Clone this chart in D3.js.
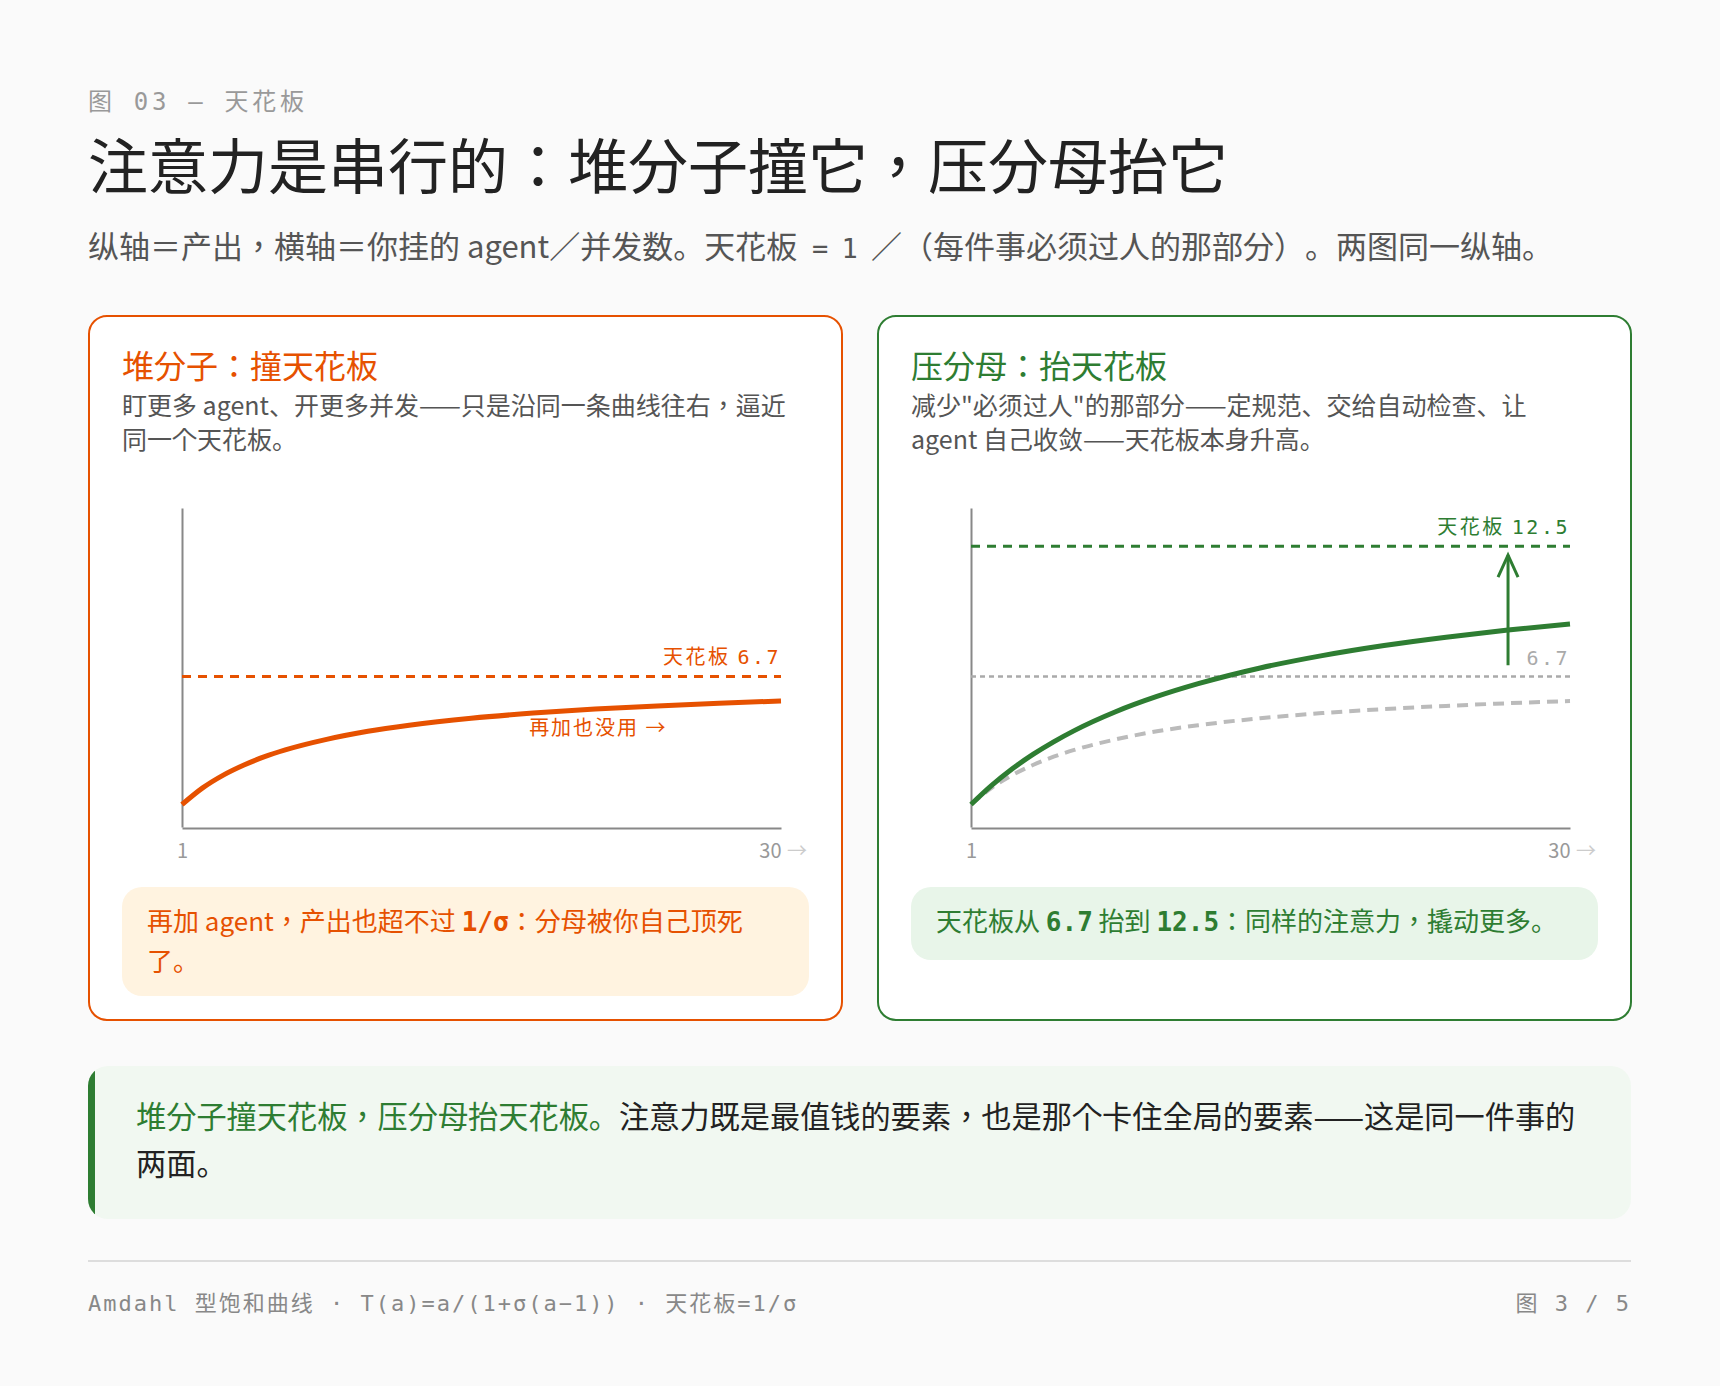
<!DOCTYPE html>
<html><head><meta charset="utf-8">
<script src="https://cdn.jsdelivr.net/npm/d3@7"></script>
<style>
html,body{margin:0;padding:0;background:#fafafa;}
svg{display:block;}
svg text{text-spacing-trim:space-all;}
</style></head><body>
<svg id="c" width="1720" height="1386"></svg>
<script>
// ---------- data ----------
const agents        = [1, 2, 3, 4, 5, 6, 8, 10, 12, 15, 18, 21, 24, 27, 30];
const outputBefore  = [1.00, 1.74, 2.31, 2.76, 3.13, 3.43, 3.90, 4.26, 4.53, 4.84, 5.07, 5.25, 5.39, 5.51, 5.61];
const outputAfter   = [1.00, 1.85, 2.59, 3.23, 3.79, 4.29, 5.13, 5.81, 6.38, 7.08, 7.63, 8.08, 8.45, 8.77, 9.04];
const ceilingBefore = 6.7;
const ceilingAfter  = 12.5;
const xTickValues   = [1, 30];
const xTickLabels   = ["1", "30"];
const arrowAgent    = 27;
const arrowRange    = [7.2, 12.1];
const yMax          = 14.2;

// ---------- styles ----------
const SANS = "'Noto Sans CJK JP','Noto Sans CJK SC','Noto Sans',sans-serif";
const MONO = "'DejaVu Sans Mono','Noto Sans CJK JP',monospace";
const COMMA = "'Noto Sans CJK TC','Noto Sans CJK JP',sans-serif";
const ORANGE = "#e65100", GREEN = "#2e7d32";

const svg = d3.select("#c");
svg.append("rect").attr("width",1720).attr("height",1386).attr("fill","#fafafa");

function rich(g, x, y, fs, parts, opts={}) {
  const t = g.append("text").attr("x",x).attr("y",y).attr("font-size",fs)
    .attr("font-family", opts.family || SANS).attr("fill", opts.fill || "#222");
  if (opts.anchor) t.attr("text-anchor", opts.anchor);
  if (opts.ls) t.attr("letter-spacing", opts.ls);
  parts.forEach(p => {
    if (typeof p === "string") p = {t:p};
    const pieces = p.mono ? [p.t] : p.t.split(/(，)/).filter(s => s.length);
    pieces.forEach(piece => {
      const s = t.append("tspan").text(piece);
      if (p.mono) s.attr("font-family", MONO);
      else if (piece === "，" && !opts.family) s.attr("font-family", COMMA);
      if (p.bold) s.attr("font-weight", 700);
      if (p.fill) s.attr("fill", p.fill);
      if (p.fs) s.attr("font-size", p.fs);
      if (p.ls !== undefined) s.attr("letter-spacing", p.ls);
    });
  });
  t.style("white-space","pre");
  return t;
}

// ---------- header ----------
rich(svg, 88, 110, 24, ["图 03 — 天花板"], {family:MONO, fill:"#999", ls:3.7});
rich(svg, 88, 189, 60, ["注意力是串行的：堆分子撞它，压分母抬它"], {fill:"#222"});
rich(svg, 88, 258, 31, ["纵轴＝产出，横轴＝你挂的 agent／并发数。天花板", {t:" = 1 ", mono:true, fs:27, ls:-1.5}, "／（每件事必须过人的那部分）。两图同一纵轴。"], {fill:"#555"});

// ---------- panels ----------
const panels = [
  {x:88, color:ORANGE, title:"堆分子：撞天花板",
   desc:["盯更多 agent、开更多并发——只是沿同一条曲线往右，逼近","同一个天花板。"],
   boxFill:"#fff3e0", boxH:109,
   note:[[ "再加 agent，产出也超不过 ", {t:"1/σ", mono:true, bold:true}, "：分母被你自己顶死"], ["了。"]]},
  {x:877, color:GREEN, title:"压分母：抬天花板",
   desc:["减少\"必须过人\"的那部分——定规范、交给自动检查、让","agent 自己收敛——天花板本身升高。"],
   boxFill:"#e8f5e9", boxH:73,
   note:[[ "天花板从 ", {t:"6.7", mono:true, bold:true}, " 抬到 ", {t:"12.5", mono:true, bold:true}, "：同样的注意力，撬动更多。"]]}
];

panels.forEach((p, i) => {
  const g = svg.append("g");
  g.append("rect").attr("x",p.x+1).attr("y",316).attr("width",753).attr("height",704)
    .attr("rx",18).attr("fill","#fff").attr("stroke",p.color).attr("stroke-width",2);
  rich(g, p.x+34, 378, 32, [p.title], {fill:p.color});
  p.desc.forEach((line, k) => rich(g, p.x+34, 415 + k*33.5, 25, [line], {fill:"#555"}));

  // chart
  const x = d3.scaleLinear().domain([1, 30]).range([p.x+94, p.x+693]);
  const y = d3.scaleLinear().domain([0, yMax]).range([827, 508]);
  const ch = g.append("g");

  ch.append("g").attr("transform",`translate(${p.x+94},0)`)
    .call(d3.axisLeft(y).tickValues([]).tickSizeOuter(0))
    .call(a => a.select(".domain").attr("stroke","#888").attr("stroke-width",2));
  const xa = ch.append("g").attr("transform",`translate(0,${y(0)+1})`)
    .call(d3.axisBottom(x).tickValues(xTickValues).tickSize(0).tickSizeOuter(0).tickPadding(16)
      .tickFormat((d, j) => xTickLabels[j]));
  xa.select(".domain").attr("stroke","#888").attr("stroke-width",2);
  xa.selectAll("text").attr("font-size",20).attr("font-family",SANS).attr("fill","#999")
    .attr("text-anchor", (d, j) => j === xTickLabels.length - 1 ? "end" : "middle");
  // trailing axis arrow after the last tick label
  xa.append("text").attr("x", x(30) + 6).attr("y", 16).attr("dy","0.71em")
    .attr("font-size",20).attr("font-family",SANS).attr("fill","#ccc").attr("text-anchor","start")
    .text("→");

  const line = d3.line().x((d, j) => x(agents[j])).y(d => y(d)).curve(d3.curveMonotoneX);

  if (i === 0) {
    ch.append("line").attr("x1",x(1)).attr("x2",x(30)).attr("y1",y(ceilingBefore)).attr("y2",y(ceilingBefore))
      .attr("stroke",ORANGE).attr("stroke-width",3).attr("stroke-dasharray","9,7");
    ch.append("path").attr("d",line(outputBefore)).attr("fill","none")
      .attr("stroke",ORANGE).attr("stroke-width",5);
    rich(ch, x(30), y(ceilingBefore)-12, 20, ["天花板 ", {t:String(ceilingBefore), mono:true}], {fill:ORANGE, anchor:"end", ls:2.5});
    rich(ch, x(18)-4, y(outputBefore[10])+22, 20, ["再加也没用 →"], {fill:ORANGE, ls:2});
  } else {
    ch.append("line").attr("x1",x(1)).attr("x2",x(30)).attr("y1",y(ceilingBefore)).attr("y2",y(ceilingBefore))
      .attr("stroke","#aaa").attr("stroke-width",2.5).attr("stroke-dasharray","5,4");
    ch.append("path").attr("d",line(outputBefore)).attr("fill","none")
      .attr("stroke","#bbb").attr("stroke-width",4).attr("stroke-dasharray","11,7");
    ch.append("line").attr("x1",x(1)).attr("x2",x(30)).attr("y1",y(ceilingAfter)).attr("y2",y(ceilingAfter))
      .attr("stroke",GREEN).attr("stroke-width",3).attr("stroke-dasharray","9,7");
    ch.append("path").attr("d",line(outputAfter)).attr("fill","none")
      .attr("stroke",GREEN).attr("stroke-width",5);
    // arrow
    const ax = x(arrowAgent), y0 = y(arrowRange[0]), y1 = y(arrowRange[1]);
    ch.append("line").attr("x1",ax).attr("x2",ax).attr("y1",y0).attr("y2",y1)
      .attr("stroke",GREEN).attr("stroke-width",3);
    ch.append("path").attr("d",`M${ax-10},${y1+22}L${ax},${y1}L${ax+10},${y1+22}`)
      .attr("fill","none").attr("stroke",GREEN).attr("stroke-width",3);
    rich(ch, x(30), y(ceilingAfter)-12, 20, ["天花板 ", {t:String(ceilingAfter), mono:true}], {fill:GREEN, anchor:"end", ls:2.5});
    rich(ch, x(30), y(ceilingBefore)-11, 20, [{t:String(ceilingBefore), mono:true}], {fill:"#aaa", anchor:"end", ls:2.5});
  }

  // note box
  g.append("rect").attr("x",p.x+34).attr("y",887).attr("width",687).attr("height",p.boxH)
    .attr("rx",20).attr("fill",p.boxFill);
  p.note.forEach((parts, k) => rich(g, p.x+59, 931 + k*40, 26, parts, {fill:p.color}));
});

// ---------- quote ----------
const qg = svg.append("g");
qg.append("clipPath").attr("id","qclip").append("rect")
  .attr("x",88).attr("y",1066).attr("width",1543).attr("height",153).attr("rx",20);
qg.append("rect").attr("x",88).attr("y",1066).attr("width",1543).attr("height",153)
  .attr("rx",20).attr("fill","#f1f8f1");
qg.append("rect").attr("x",88).attr("y",1066).attr("width",7).attr("height",153)
  .attr("fill",GREEN).attr("clip-path","url(#qclip)");
rich(qg, 136, 1128, 30.2, [{t:"堆分子撞天花板，压分母抬天花板。", fill:GREEN}, "注意力既是最值钱的要素，也是那个卡住全局的要素——这是同一件事的"], {fill:"#222"});
rich(qg, 136, 1175, 30.2, ["两面。"], {fill:"#222"});

// ---------- footer ----------
svg.append("line").attr("x1",88).attr("x2",1631).attr("y1",1261).attr("y2",1261)
  .attr("stroke","#ddd").attr("stroke-width",2);
rich(svg, 88, 1311, 22, ["Amdahl 型饱和曲线 · T(a)=a/(1+σ(a−1)) · 天花板=1/σ"], {family:MONO, fill:"#888", ls:2});
rich(svg, 1631, 1311, 22, ["图 3 / 5"], {family:MONO, fill:"#888", anchor:"end", ls:2});
</script>
</body></html>
